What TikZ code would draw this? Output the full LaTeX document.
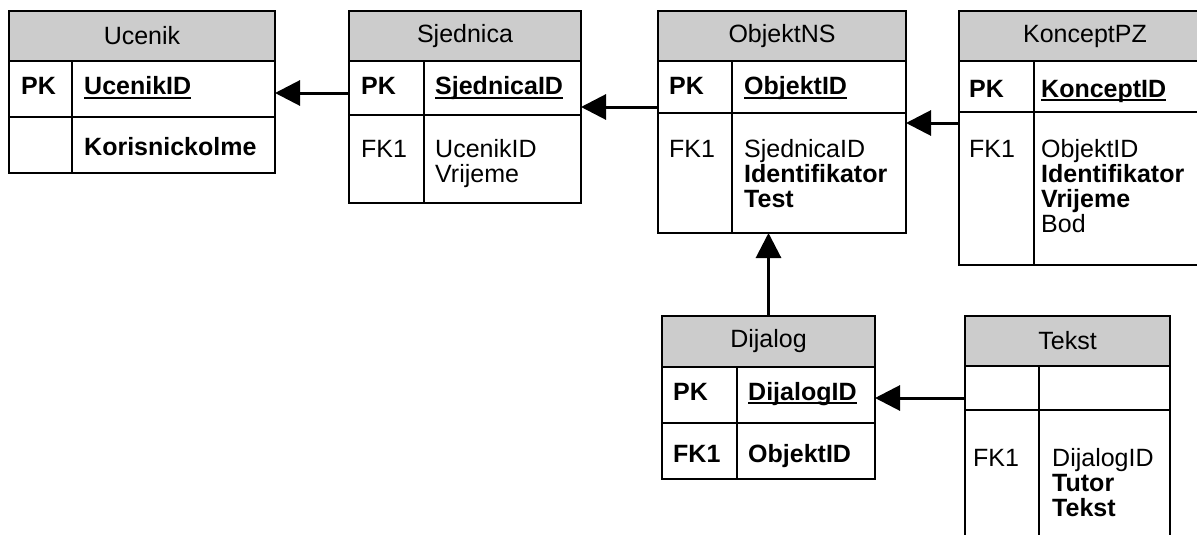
\documentclass[tikz,border=0pt]{standalone}
\usepackage{fontspec}
\setmainfont{Liberation Sans}
\usepackage{tikz}
\usetikzlibrary{arrows.meta,calc,positioning}
\definecolor{hdgray}{RGB}{204,204,204}
\newcommand{\pkfield}[1]{\setbox0\hbox{\bfseries #1}\rlap{\rule[-3.5pt]{\wd0}{2pt}}\box0}

\begin{document}
\begin{tikzpicture}[x=1pt,y=-1pt,font=\fontsize{25}{25}\selectfont,
    tab/.style={draw,line width=2pt,inner sep=0pt,outer sep=0pt,anchor=north west},
    tabhead/.style={tab,fill=hdgray},
    txt/.style={anchor=base west,inner sep=0pt,align=left},
    fk/.style={-{Triangle[length=25pt,width=25pt]},line width=3pt}]
  \useasboundingbox (0,0) rectangle (1197,535);
  \clip (0,0) rectangle (1197,535);
  % Ucenik
  \node[tabhead,minimum width=266,minimum height=50] (ucenik) at (9,11) {Ucenik};
  \node[tab,minimum width=266,minimum height=56] (ucenik-pk) at (ucenik.south west) {};
  \node[tab,minimum width=266,minimum height=56] (ucenik-fk) at (ucenik-pk.south west) {};
  \draw[line width=2pt] (72,61) -- (72,173);
  \node[txt] (ucenik-k1) at (21,95) {\textbf{PK}};
  \node[txt] (ucenik-f1) at (84,95) {\pkfield{UcenikID}};
  \node[txt] (ucenik-f2) at (84,155) {\textbf{Korisnickolme}};
  % Sjednica
  \node[tabhead,minimum width=232,minimum height=50] (sjednica) at (349,11) {Sjednica};
  \node[tab,minimum width=232,minimum height=54] (sjednica-pk) at (sjednica.south west) {};
  \node[tab,minimum width=232,minimum height=88] (sjednica-fk) at (sjednica-pk.south west) {};
  \draw[line width=2pt] (424,61) -- (424,203);
  \node[txt] (sjednica-k1) at (361,95) {\textbf{PK}};
  \node[txt] (sjednica-f1) at (435,95) {\pkfield{SjednicaID}};
  \node[txt] (sjednica-k2) at (361,157) {FK1};
  \node[txt] (sjednica-f2) at (435,182) {UcenikID\\Vrijeme};
  % ObjektNS
  \node[tabhead,minimum width=248,minimum height=50] (objektns) at (658,11) {ObjektNS};
  \node[tab,minimum width=248,minimum height=52] (objektns-pk) at (objektns.south west) {};
  \node[tab,minimum width=248,minimum height=120] (objektns-fk) at (objektns-pk.south west) {};
  \draw[line width=2pt] (732,61) -- (732,233);
  \node[txt] (objektns-k1) at (669,95) {\textbf{PK}};
  \node[txt] (objektns-f1) at (744,95) {\pkfield{ObjektID}};
  \node[txt] (objektns-k2) at (669,157) {FK1};
  \node[txt] (objektns-f2) at (744,207) {SjednicaID\\\textbf{Identifikator}\\\textbf{Test}};
  % KonceptPZ
  \node[tabhead,minimum width=252,minimum height=50] (koncept) at (959,11) {KonceptPZ};
  \node[tab,minimum width=252,minimum height=51] (koncept-pk) at (koncept.south west) {};
  \node[tab,minimum width=252,minimum height=153] (koncept-fk) at (koncept-pk.south west) {};
  \draw[line width=2pt] (1034,61) -- (1034,265);
  \node[txt] (koncept-k1) at (969,97) {\textbf{PK}};
  \node[txt] (koncept-f1) at (1041,97) {\pkfield{KonceptID}};
  \node[txt] (koncept-k2) at (969,157) {FK1};
  \node[txt] (koncept-f2) at (1041,232) {ObjektID\\\textbf{Identifikator}\\\textbf{Vrijeme}\\Bod};
  % Dijalog
  \node[tabhead,minimum width=213,minimum height=51] (dijalog) at (662,316) {Dijalog};
  \node[tab,minimum width=213,minimum height=56] (dijalog-pk) at (dijalog.south west) {};
  \node[tab,minimum width=213,minimum height=56] (dijalog-fk) at (dijalog-pk.south west) {};
  \draw[line width=2pt] (737,367) -- (737,479);
  \node[txt] (dijalog-k1) at (673,400) {\textbf{PK}};
  \node[txt] (dijalog-f1) at (748,400) {\pkfield{DijalogID}};
  \node[txt] (dijalog-k2) at (673,462) {\textbf{FK1}};
  \node[txt] (dijalog-f2) at (748,462) {\textbf{ObjektID}};
  % Tekst
  \node[tabhead,minimum width=205,minimum height=50] (tekst) at (965,316) {Tekst};
  \node[tab,minimum width=205,minimum height=44] (tekst-pk) at (tekst.south west) {};
  \node[tab,minimum width=205,minimum height=150] (tekst-fk) at (tekst-pk.south west) {};
  \draw[line width=2pt] (1039,366) -- (1039,560);
  \node[txt] (tekst-k2) at (973,466) {FK1};
  \node[txt] (tekst-f2) at (1052,516) {DijalogID\\\textbf{Tutor}\\\textbf{Tekst}};
  % veze
  \coordinate (c1) at ([yshift=-5pt]sjednica-pk.west);
  \draw[fk] (c1) -- (ucenik-pk.east |- c1);
  \coordinate (c2) at ([yshift=-20pt]objektns-pk.west);
  \draw[fk] (c2) -- (sjednica-pk.east |- c2);
  \coordinate (c3) at ([yshift=-11pt]koncept-fk.north west);
  \draw[fk] (c3) -- (objektns-fk.east |- c3);
  \draw[fk] (dijalog.north) -- (objektns-fk.south -| dijalog.north);
  \coordinate (c5) at ([yshift=-10pt]tekst-pk.west);
  \draw[fk] (c5) -- (dijalog-pk.east |- c5);
\end{tikzpicture}
\end{document}
